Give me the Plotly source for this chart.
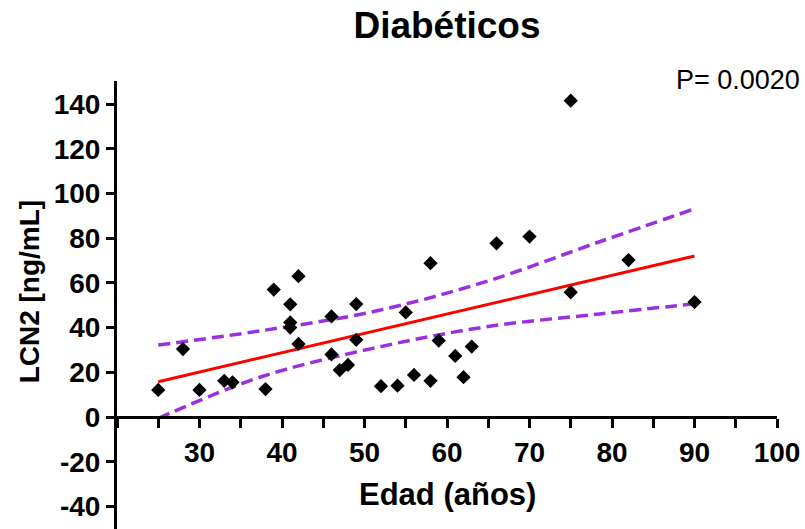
import plotly.graph_objects as go

# Data
age = [25, 28, 30, 33, 34, 38, 39, 41, 41, 41, 42, 42, 46, 46, 47, 48, 49, 49,
       52, 54, 55, 56, 58, 58, 59, 61, 62, 63, 66, 70, 75, 75, 82, 90]
lcn2 = [12.1, 30.4, 12.1, 16.2, 15.5, 12.5, 57.0, 50.4, 42.3, 40.0, 63.0, 32.7,
        45.0, 28.0, 21.0, 23.3, 50.5, 34.5, 13.8, 14.0, 46.8, 18.8, 16.2, 68.8,
        34.2, 27.3, 17.8, 31.5, 77.7, 80.7, 141.5, 55.8, 70.2, 51.4]

fit_x = [25, 90]
fit_y = [15.8, 72.0]

band_x = [25, 37.5, 51, 64.5, 78.5, 90]
band_upper = [32.2, 38.6, 47.1, 60.3, 78.4, 93.1]
band_lower = [-0.6, 18.0, 30.7, 40.2, 46.1, 50.6]

x_ticks = [30, 40, 50, 60, 70, 80, 90, 100]
y_ticks = [-40, -20, 0, 20, 40, 60, 80, 100, 120, 140]

title_text = "Diabéticos"
x_title = "Edad (años)"
y_title = "LCN2 [ng/mL]"
p_text = "P= 0.0020"

FONT = "Liberation Sans, Arial, sans-serif"
PURPLE = "#9B30E0"

PLOT_L, PLOT_W = 117, 660
PLOT_B, PLOT_H = 529, 448

fig = go.Figure()
for band in (band_upper, band_lower):
    fig.add_trace(go.Scatter(x=band_x, y=band, mode="lines",
                             line=dict(color=PURPLE, width=3.5, dash="12px,6px", shape="spline"),
                             hoverinfo="skip", showlegend=False))
fig.add_trace(go.Scatter(x=fit_x, y=fit_y, mode="lines",
                         line=dict(color="#FF0000", width=3),
                         hoverinfo="skip", showlegend=False))
fig.add_trace(go.Scatter(x=age, y=lcn2, mode="markers",
                         marker=dict(symbol="diamond", size=11, color="black",
                                     line=dict(width=0)),
                         showlegend=False, cliponaxis=False))

y_range = [-50.1, 150.3]
x_pos = (0 - y_range[0]) / (y_range[1] - y_range[0])

fig.update_layout(
    width=805, height=529,
    margin=dict(l=PLOT_L, r=805 - PLOT_L - PLOT_W, t=81, b=0),
    plot_bgcolor="white", paper_bgcolor="white",
    font=dict(family=FONT, color="black"),
    title=dict(text="<b>%s</b>" % title_text, x=0.5, xref="paper",
               y=1 - 25 / 529, yanchor="middle",
               font=dict(size=37, family=FONT, color="black")),
    xaxis=dict(range=[20, 100], tickvals=x_ticks,
               ticktext=["<b>%d</b>" % v for v in x_ticks],
               anchor="free", position=x_pos,
               showline=True, linecolor="black", linewidth=3,
               ticks="outside", ticklen=9, tickwidth=3, tickcolor="black",
               minor=dict(dtick=5, tick0=0, ticks="outside", ticklen=9,
                          tickwidth=3, tickcolor="black", showgrid=False),
               showgrid=False, zeroline=False,
               tickfont=dict(size=28, family=FONT, color="black")),
    yaxis=dict(range=y_range, tickvals=y_ticks,
               ticktext=["<b>%d</b>" % v for v in y_ticks],
               showline=True, linecolor="black", linewidth=3,
               ticks="outside", ticklen=8, tickwidth=3, tickcolor="black",
               showgrid=False, zeroline=False,
               tickfont=dict(size=28, family=FONT, color="black")),
    annotations=[
        dict(text="<b>%s</b>" % x_title, x=60, y=-34.5, xref="x", yref="y",
             showarrow=False, xanchor="center", yanchor="middle",
             font=dict(size=31, family=FONT, color="black")),
        dict(text="<b>%s</b>" % y_title, x=(29 - PLOT_L) / PLOT_W, y=56.2,
             xref="paper", yref="y",
             xanchor="center", yanchor="middle", textangle=-90,
             showarrow=False, font=dict(size=28, family=FONT, color="black")),
        dict(text=p_text, x=(802 - PLOT_L) / PLOT_W, y=(PLOT_B - 80) / PLOT_H,
             xref="paper", yref="paper",
             yanchor="middle", xanchor="right", showarrow=False,
             font=dict(size=27, family=FONT, color="black")),
    ],
)

fig.write_html("out.html")
